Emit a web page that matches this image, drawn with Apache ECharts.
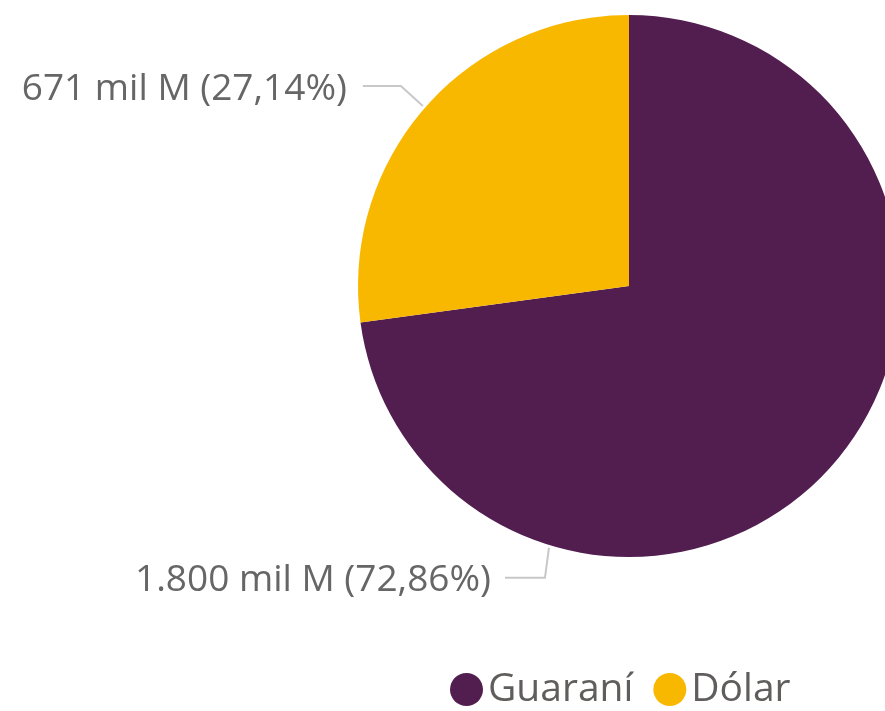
<!DOCTYPE html>
<html>
<head>
<meta charset="utf-8">
<script src="https://cdn.jsdelivr.net/npm/echarts@6/dist/echarts.min.js"></script>
<style>
html,body{margin:0;padding:0;background:#fff;}
#c{width:885px;height:711px;}
</style>
</head>
<body>
<div id="c"></div>
<script>
const categories = ['Guaraní', 'Dólar'];
const valueLabels = ['1.800', '671'];
const values = [1800, 671];
const percents = ['72,86', '27,14'];
const colors = ['#521E50', '#F9B800'];

const chart = echarts.init(document.getElementById('c'));
const cx = 629, cy = 286, R = 271;

chart.setOption({
  animation: false,
  color: colors,
  legend: {
    data: categories,
    left: 450,
    top: 670,
    padding: 0,
    icon: 'circle',
    itemWidth: 33,
    itemHeight: 33,
    itemGap: 20,
    textStyle: { fontFamily: 'Open Sans', fontSize: 39, color: '#605E5C' }
  },
  series: [{
    type: 'pie',
    center: [cx, cy],
    radius: R,
    startAngle: 90,
    clockwise: true,
    data: categories.map((c, i) => ({ name: c, value: values[i] })),
    label: {
      show: true,
      position: 'outside',
      fontFamily: 'Open Sans',
      fontSize: 37,
      width: 430,
      overflow: 'none',
      color: '#666',
      formatter: p => valueLabels[p.dataIndex] + ' mil M (' + percents[p.dataIndex] + '%)'
    },
    labelLine: {
      show: true,
      lineStyle: { color: '#c8c8c8', width: 2 }
    },
    labelLayout: function (p) {
      if (p.dataIndex === 0) {
        const a = 197 * Math.PI / 180;
        const sx = cx + Math.sin(a) * R * 1.01;
        const sy = cy - Math.cos(a) * R * 1.01;
        const ex = sx - 4, ey = sy + 30;
        const fx = ex - 40;
        return {
          x: fx - 14, y: ey + 3,
          align: 'right', verticalAlign: 'middle',
          labelLinePoints: [[sx, sy], [ex, ey], [fx, ey]]
        };
      } else {
        const a = -(360 * 0.2714 / 2) * Math.PI / 180;
        const sx = cx + Math.sin(a) * R * 1.01;
        const sy = cy - Math.cos(a) * R * 1.01;
        const ex = sx - 22, ey = sy - 20;
        const fx = ex - 38;
        return {
          x: fx - 16, y: ey + 4,
          align: 'right', verticalAlign: 'middle',
          labelLinePoints: [[sx, sy], [ex, ey], [fx, ey]]
        };
      }
    }
  }]
});
</script>
</body>
</html>
